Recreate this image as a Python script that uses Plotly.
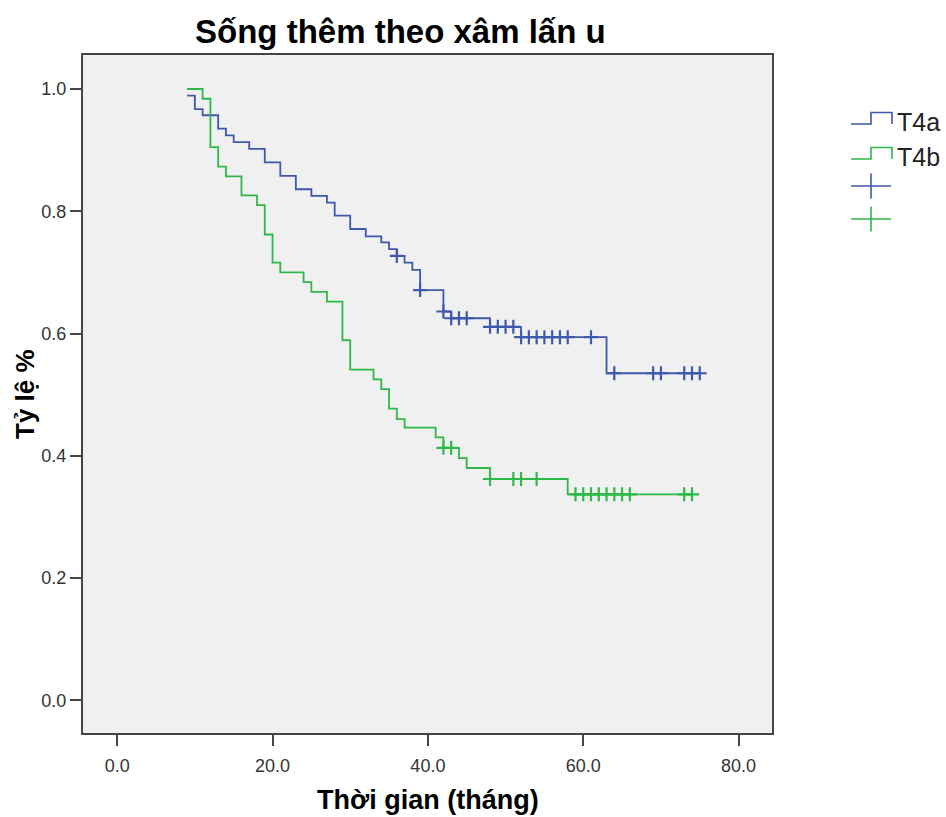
import numpy as np
import plotly.graph_objects as go

# Kaplan-Meier estimates (time in months, cumulative survival)
t4a_times = [9, 10, 11, 13, 14, 15, 17, 19, 21, 23, 25, 27, 28, 30, 32, 34, 35,
             36, 37, 38, 39, 42, 43, 48, 52, 63]
t4a_surv = [0.989, 0.967, 0.957, 0.935, 0.924, 0.913, 0.902, 0.880, 0.858, 0.836,
            0.825, 0.814, 0.793, 0.771, 0.759, 0.749, 0.738, 0.727, 0.716, 0.704,
            0.671, 0.636, 0.625, 0.611, 0.594, 0.535]
t4a_censored = [36, 39, 42, 43, 44, 45, 48, 49, 50, 51, 52, 53, 54, 55, 56, 57, 58,
                61, 64, 69, 70, 73, 74, 75]

t4b_times = [9, 11, 12, 13, 14, 16, 18, 19, 20, 21, 24, 25, 27, 29, 30, 33, 34, 35,
             36, 37, 41, 42, 44, 45, 48, 58]
t4b_surv = [1.000, 0.984, 0.905, 0.873, 0.857, 0.826, 0.810, 0.762, 0.716, 0.700,
            0.684, 0.668, 0.652, 0.589, 0.541, 0.525, 0.509, 0.477, 0.460, 0.446,
            0.430, 0.413, 0.396, 0.380, 0.362, 0.337]
t4b_censored = [42, 43, 48, 51, 52, 54, 59, 60, 61, 62, 63, 64, 65, 66, 73, 74]

group_names = ["T4a", "T4b"]
group_colors = ["#3E58AC", "#2EB848"]

x_ticks = [0, 20, 40, 60, 80]
y_ticks = [0.0, 0.2, 0.4, 0.6, 0.8, 1.0]

FONT = "Liberation Sans, Arial, sans-serif"
AXIS_COLOR = "#454545"

W, H = 946, 817
M_L, M_R, M_T, M_B = 83, 174, 55, 84


def px_x(px):
    return (px - M_L) / (W - M_L - M_R)


def px_y(py):
    return (H - M_B - py) / (H - M_T - M_B)


def step_value(times, surv, t):
    idx = np.searchsorted(np.asarray(times), t, side="right") - 1
    return float(np.asarray(surv)[max(idx, 0)])


fig = go.Figure()

groups = [
    (t4a_times, t4a_surv, t4a_censored),
    (t4b_times, t4b_surv, t4b_censored),
]

for (times, surv, cens), name, color in zip(groups, group_names, group_colors):
    end_t = max(max(cens), times[-1])
    xs = list(times) + [end_t]
    ys = list(surv) + [surv[-1]]
    fig.add_trace(go.Scatter(
        x=xs, y=ys, mode="lines", line=dict(color=color, width=1.8, shape="hv"),
        name=name, showlegend=False, hoverinfo="skip"))
    fig.add_trace(go.Scatter(
        x=cens, y=[step_value(times, surv, c) for c in cens], mode="markers",
        marker=dict(symbol="cross-thin", size=10, line=dict(color=color, width=2.2)),
        name=name + " censored", showlegend=False, hoverinfo="skip"))

shapes = []
annotations = []

# Legend: step glyphs for the survival functions and crosses for censoring
lx0, lxm, lx1 = 851, 871, 892
for i, (name, color) in enumerate(zip(group_names, group_colors)):
    y_lo = 124 + i * 35
    y_hi = y_lo - 11.5
    path = (f"M {px_x(lx0)},{px_y(y_lo)} L {px_x(lxm)},{px_y(y_lo)} "
            f"L {px_x(lxm)},{px_y(y_hi)} L {px_x(lx1)},{px_y(y_hi)} "
            f"L {px_x(lx1)},{px_y(y_lo)}")
    shapes.append(dict(type="path", xref="paper", yref="paper", path=path,
                       line=dict(color=color, width=1.6)))
    annotations.append(dict(text=name, xref="paper", yref="paper",
                            x=px_x(895), y=px_y(y_lo - 2), xanchor="left",
                            yanchor="middle", showarrow=False,
                            font=dict(family=FONT, size=25, color="#222222")))
for i, color in enumerate(group_colors):
    cy = 186 + i * 33
    shapes.append(dict(type="line", xref="paper", yref="paper",
                       x0=px_x(851), x1=px_x(891), y0=px_y(cy), y1=px_y(cy),
                       line=dict(color=color, width=1.6)))
    shapes.append(dict(type="line", xref="paper", yref="paper",
                       x0=px_x(871), x1=px_x(871), y0=px_y(cy - 12.5), y1=px_y(cy + 12.5),
                       line=dict(color=color, width=1.6)))

annotations.append(dict(text="Sống thêm theo xâm lấn u", xref="paper", yref="paper",
                        x=px_x(400), y=px_y(32), xanchor="center", yanchor="middle",
                        showarrow=False,
                        font=dict(family=FONT, size=33, color="#000000", weight="bold")))
annotations.append(dict(text="Thời gian (tháng)", xref="paper", yref="paper",
                        x=0.5, y=px_y(800), xanchor="center", yanchor="middle",
                        showarrow=False,
                        font=dict(family=FONT, size=27, color="#000000", weight="bold")))
annotations.append(dict(text="Tỷ lệ %", xref="paper", yref="paper",
                        x=px_x(25), y=0.5, xanchor="center", yanchor="middle",
                        textangle=-90, showarrow=False,
                        font=dict(family=FONT, size=26, color="#000000", weight="bold")))

axis_common = dict(showgrid=False, zeroline=False, showline=True, mirror=True,
                   linecolor=AXIS_COLOR, linewidth=2, ticks="outside", ticklen=11,
                   tickwidth=2, tickcolor=AXIS_COLOR,
                   tickfont=dict(family=FONT, size=18, color="#333333"))

fig.update_layout(
    width=W, height=H,
    margin=dict(l=M_L, r=M_R, t=M_T, b=M_B, autoexpand=False),
    paper_bgcolor="#FFFFFF",
    plot_bgcolor="#F0F0F0",
    showlegend=False,
    shapes=shapes,
    annotations=annotations,
    xaxis=dict(range=[-4.4, 84.3], tickvals=x_ticks, tickformat=".1f",
               ticklabelstandoff=4, **axis_common),
    yaxis=dict(range=[-0.0535, 1.0556], tickvals=y_ticks, tickformat=".1f",
               ticklabelstandoff=0, **axis_common),
)

fig.write_html("out.html")
